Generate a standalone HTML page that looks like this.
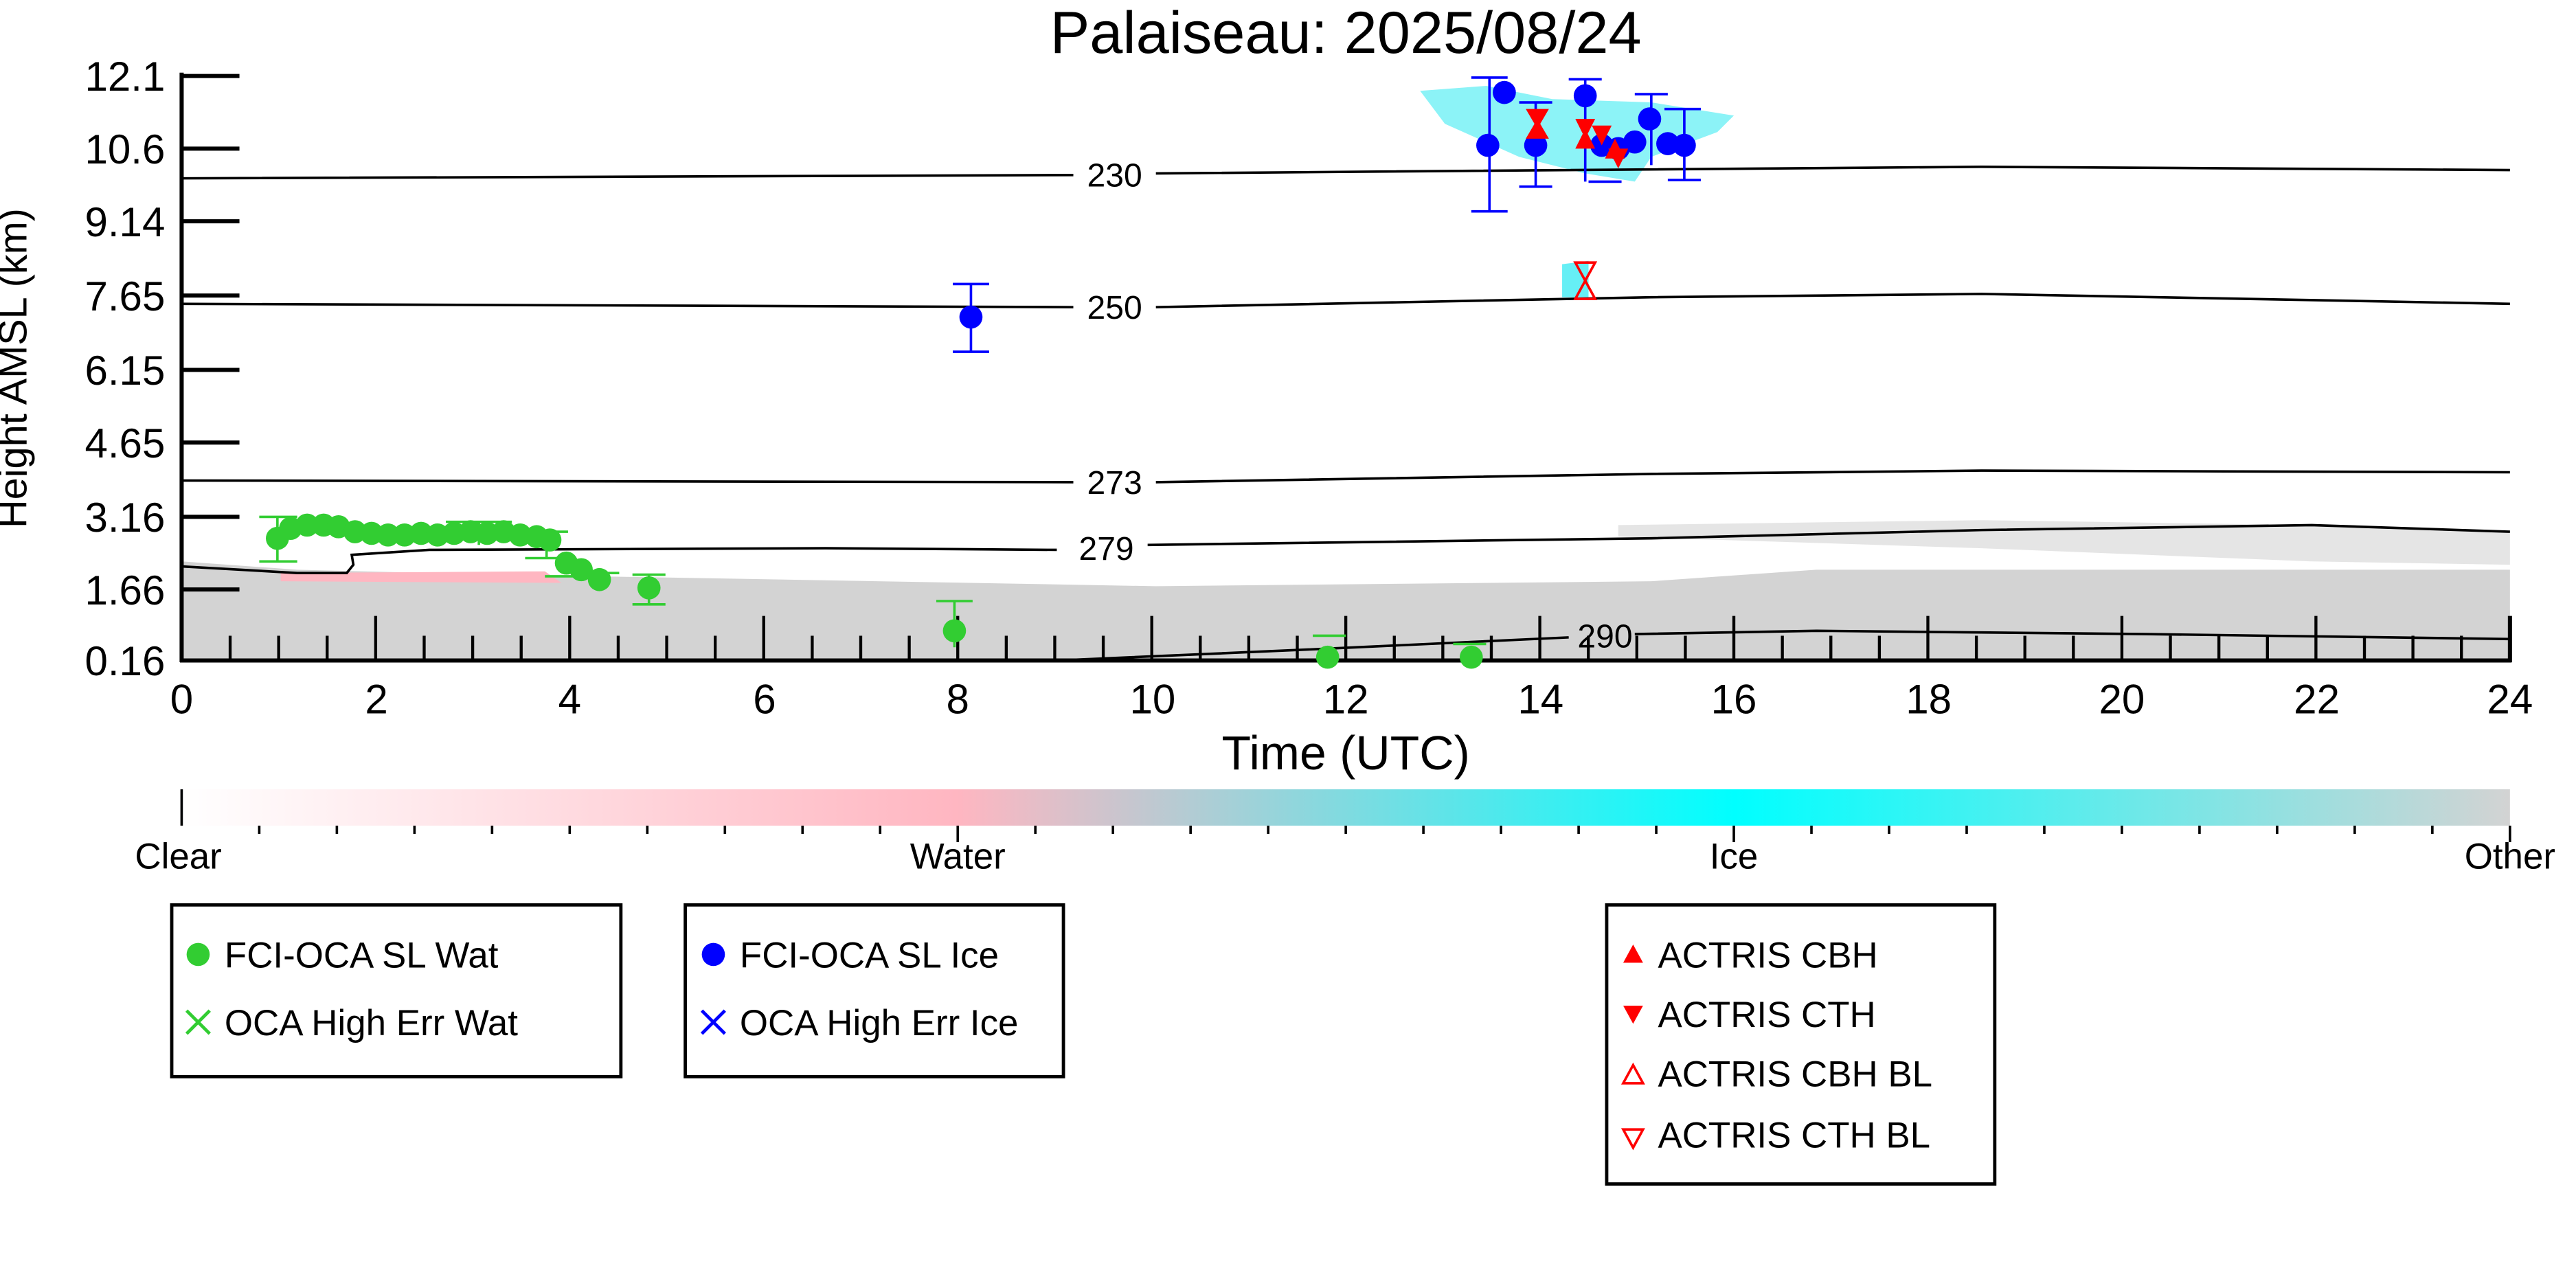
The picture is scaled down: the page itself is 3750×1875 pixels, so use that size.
<!DOCTYPE html>
<html><head><meta charset="utf-8"><style>html,body{margin:0;padding:0;background:#fff}svg{display:block}text{font-family:"Liberation Sans","DejaVu Sans",sans-serif}</style></head>
<body>
<svg width="3750" height="1875" viewBox="0 0 1560 780" xmlns="http://www.w3.org/2000/svg">
<defs>
<linearGradient id="cb" x1="0" x2="1" y1="0" y2="0">
<stop offset="0" stop-color="#ffffff"/><stop offset="0.333" stop-color="#ffb6c1"/><stop offset="0.667" stop-color="#00ffff"/><stop offset="1" stop-color="#d3d3d3"/>
</linearGradient>
</defs>
<text x="815" y="32" font-size="36" text-anchor="middle">Palaiseau: 2025/08/24</text>
<polygon fill="#d3d3d3" points="110,340 180,345 300,348 420,350 700,355 1000,352 1100,345 1520,345 1520,400 110,400"/>
<polygon fill="#d3d3d3" opacity="0.6" points="980,318 1200,315 1400,318 1520,322 1520,342 1400,340 1200,332 980,325"/>
<polygon fill="#ffb6c1" points="170,347 330,346 340,353 170,352"/>
<polygon fill="#00e5ee" opacity="0.45" points="860,55 900,52 940,60 1000,62 1050,70 1040,80 1000,95 990,110 960,105 920,95 875,75"/>
<polygon fill="#00e5ee" opacity="0.6" points="946,160 962,158 962,180 946,180"/>
<g fill="none" stroke="#000" stroke-width="1.5">
<path d="M110,108 L650,106 M700,105 L1200,101 L1520,103"/>
<path d="M110,184 L650,186 M700,186 L1000,180 L1200,178 L1520,184"/>
<path d="M110,291 L650,292 M700,292 L1000,287 L1200,285 L1520,286"/>
<path d="M110,343 L180,347 L210,347 L214,342 L213,336 L260,333 L500,332 L640,333 M695,330 L1000,326 L1200,321 L1400,318 L1520,322"/>
<path d="M640,400 L800,393 L950,386 M990,384 L1100,382 L1300,384 L1520,387"/>
</g>
<g font-size="20" text-anchor="middle"><text x="675" y="113">230</text><text x="675" y="193">250</text><text x="675" y="299">273</text><text x="670" y="339">279</text><text x="972" y="392">290</text></g>
<g stroke="#000" stroke-width="2.5"><line x1="110" y1="44" x2="110" y2="401"/><line x1="109" y1="400" x2="1521" y2="400"/><line x1="1520" y1="373" x2="1520" y2="401"/></g>
<g stroke="#000" stroke-width="2.5">
<line x1="110" y1="46" x2="145" y2="46"/><line x1="110" y1="90" x2="145" y2="90"/><line x1="110" y1="134" x2="145" y2="134"/><line x1="110" y1="179" x2="145" y2="179"/><line x1="110" y1="224" x2="145" y2="224"/><line x1="110" y1="268" x2="145" y2="268"/><line x1="110" y1="313" x2="145" y2="313"/><line x1="110" y1="357" x2="145" y2="357"/>
</g>
<g stroke="#000" stroke-width="1.8" id="xt"></g>
<g font-size="25" text-anchor="end"><text x="100" y="55">12.1</text><text x="100" y="99">10.6</text><text x="100" y="143">9.14</text><text x="100" y="188">7.65</text><text x="100" y="233">6.15</text><text x="100" y="277">4.65</text><text x="100" y="322">3.16</text><text x="100" y="366">1.66</text><text x="100" y="409">0.16</text></g>
<text transform="translate(16,223) rotate(-90)" font-size="24" text-anchor="middle">Height AMSL (km)</text>
<g font-size="25" text-anchor="middle"><text x="110" y="432">0</text><text x="228" y="432">2</text><text x="345" y="432">4</text><text x="463" y="432">6</text><text x="580" y="432">8</text><text x="698" y="432">10</text><text x="815" y="432">12</text><text x="933" y="432">14</text><text x="1050" y="432">16</text><text x="1168" y="432">18</text><text x="1285" y="432">20</text><text x="1403" y="432">22</text><text x="1520" y="432">24</text></g>
<text x="815" y="466" font-size="29" text-anchor="middle">Time (UTC)</text>
<g stroke="#32cd32" stroke-width="1.5" fill="none">
<path d="M157,313 H180 M168,313 V340 M157,340 H180 M270,316 H310 M290,316 V330 M318,322 H344 M331,322 V338 M318,338 H344 M330,349 H350 M355,347 H375 M383,348 H403 M393,348 V366 M383,366 H403 M567,364 H589 M578,364 V392 M795,385 H815 M880,390 H900"/>
</g>
<g fill="#32cd32">
<circle cx="168" cy="326" r="7"/><circle cx="176" cy="320" r="7"/><circle cx="186" cy="318" r="7"/><circle cx="196" cy="318" r="7"/><circle cx="205" cy="319" r="7"/><circle cx="215" cy="322" r="7"/><circle cx="225" cy="323" r="7"/><circle cx="235" cy="324" r="7"/><circle cx="245" cy="324" r="7"/><circle cx="255" cy="323" r="7"/><circle cx="265" cy="324" r="7"/><circle cx="275" cy="323" r="7"/><circle cx="285" cy="322" r="7"/><circle cx="295" cy="323" r="7"/><circle cx="305" cy="322" r="7"/><circle cx="315" cy="324" r="7"/><circle cx="325" cy="325" r="7"/><circle cx="333" cy="327" r="7"/><circle cx="343" cy="341" r="7"/><circle cx="352" cy="345" r="7"/><circle cx="363" cy="351" r="7"/><circle cx="393" cy="356" r="7"/><circle cx="578" cy="382" r="7"/><circle cx="804" cy="398" r="7"/><circle cx="891" cy="398" r="7"/>
</g>
<g stroke="#0000ff" stroke-width="1.5" fill="none">
<path d="M577,172 H599 M588,172 V213 M577,213 H599 M891,47 H913 M902,47 V128 M891,128 H913 M920,62 H940 M930,62 V113 M920,113 H940 M950,48 H970 M960,48 V110 M962,110 H982 M990,57 H1010 M1000,57 V100 M1008,66 H1030 M1010,109 H1030 M1020,66 V109"/>
</g>
<g fill="#0000ff">
<circle cx="588" cy="192" r="7"/><circle cx="901" cy="88" r="7"/><circle cx="911" cy="56" r="7"/><circle cx="930" cy="88" r="7"/><circle cx="960" cy="58" r="7"/><circle cx="970" cy="88" r="7"/><circle cx="980" cy="90" r="7"/><circle cx="990" cy="86" r="7"/><circle cx="999" cy="72" r="7"/><circle cx="1010" cy="87" r="7"/><circle cx="1020" cy="88" r="7"/>
</g>
<g fill="#ff0000">
<polygon points="924,66 938,66 931,78"/><polygon points="924,84 938,84 931,72"/><polygon points="954,72 966,72 960,84"/><polygon points="954,90 966,90 960,78"/><polygon points="964,76 976,76 970,88"/><polygon points="972,96 984,96 978,84"/><polygon points="974,90 986,90 980,102"/>
</g>
<g fill="none" stroke="#ff0000" stroke-width="1.5"><polygon points="954,159 966,159 960,170"/><polygon points="954,181 966,181 960,170"/></g>
<rect x="110" y="478" width="1410" height="22" fill="url(#cb)"/>
<line x1="110" y1="478" x2="110" y2="500" stroke="#000" stroke-width="1.5"/>
<g stroke="#000" stroke-width="1.5" id="cbt"></g>
<g font-size="22" text-anchor="middle"><text x="108" y="526">Clear</text><text x="580" y="526">Water</text><text x="1050" y="526">Ice</text><text x="1520" y="526">Other</text></g>
<g fill="none" stroke="#000" stroke-width="2"><rect x="104" y="548" width="272" height="104"/><rect x="415" y="548" width="229" height="104"/><rect x="973" y="548" width="235" height="169"/></g>
<g font-size="22">
<circle cx="120" cy="578" r="7" fill="#32cd32"/><text x="136" y="586">FCI-OCA SL Wat</text>
<path d="M113,612 L127,626 M127,612 L113,626" stroke="#32cd32" stroke-width="2"/><text x="136" y="627">OCA High Err Wat</text>
<circle cx="432" cy="578" r="7" fill="#0000ff"/><text x="448" y="586">FCI-OCA SL Ice</text>
<path d="M425,612 L439,626 M439,612 L425,626" stroke="#0000ff" stroke-width="2"/><text x="448" y="627">OCA High Err Ice</text>
<polygon points="983,583 995,583 989,572" fill="#f00"/><text x="1004" y="586">ACTRIS CBH</text>
<polygon points="983,609 995,609 989,620" fill="#f00"/><text x="1004" y="622">ACTRIS CTH</text>
<polygon points="983,656 995,656 989,645" fill="none" stroke="#f00" stroke-width="1.5"/><text x="1004" y="658">ACTRIS CBH BL</text>
<polygon points="983,684 995,684 989,695" fill="none" stroke="#f00" stroke-width="1.5"/><text x="1004" y="695">ACTRIS CTH BL</text>
</g>
<script>
var ns="http://www.w3.org/2000/svg",g=document.getElementById("xt");
for(var i=1;i<48;i++){var x=110+i*1410/48,l=document.createElementNS(ns,"line");l.setAttribute("x1",x);l.setAttribute("x2",x);l.setAttribute("y1",400);l.setAttribute("y2",i%4==0?373:385);g.appendChild(l);}
var c=document.getElementById("cbt");
for(var i=1;i<=30;i++){var x=110+i*1410/30,l=document.createElementNS(ns,"line");l.setAttribute("x1",x);l.setAttribute("x2",x);l.setAttribute("y1",500);l.setAttribute("y2",i%10==0?510:505);c.appendChild(l);}
</script>
</svg>
</body></html>
